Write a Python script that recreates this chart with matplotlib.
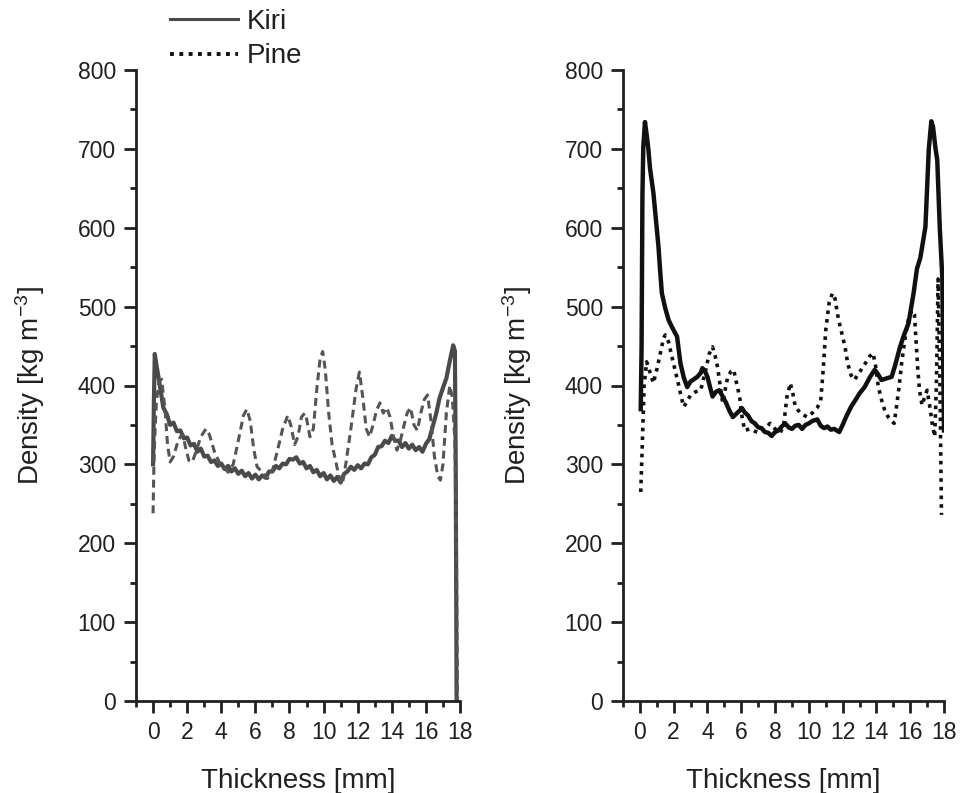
import matplotlib
matplotlib.use("Agg")
import matplotlib.pyplot as plt
from matplotlib.lines import Line2D
from matplotlib.ticker import MultipleLocator

plt.rcParams['font.family'] = ['Liberation Sans', 'DejaVu Sans']
plt.rcParams['mathtext.default'] = 'regular'

# --- left panel: Kiri (solid) ---
kiri_l_x = [0.0, 0.05, 0.1, 0.2, 0.4, 0.6, 0.8, 1.0, 1.2, 1.4, 1.6, 1.8, 2.0, 2.2, 2.4, 2.6, 2.8,
            3.0, 3.2, 3.4, 3.6, 3.8, 4.0, 4.2, 4.4, 4.6, 4.8, 5.0, 5.2, 5.4, 5.6, 5.8, 6.0, 6.2,
            6.4, 6.6, 6.8, 7.0, 7.2, 7.4, 7.6, 7.8, 8.0, 8.2, 8.4, 8.6, 8.8, 9.0, 9.2, 9.4, 9.6,
            9.8, 10.0, 10.2, 10.4, 10.6, 10.8, 11.0, 11.2, 11.4, 11.6, 11.8, 12.0, 12.2, 12.4,
            12.6, 12.8, 13.0, 13.2, 13.4, 13.6, 13.8, 14.0, 14.2, 14.4, 14.6, 14.8, 15.0, 15.2,
            15.4, 15.6, 15.8, 16.0, 16.2, 16.4, 16.6, 16.8, 17.0, 17.2, 17.4, 17.6, 17.7, 17.75,
            17.8]
kiri_l_y = [300, 380, 440, 426, 400, 372, 364, 350, 353, 342, 343, 333, 334, 324, 326, 316, 320,
            310, 311, 303, 305, 298, 301, 294, 298, 291, 295, 288, 292, 285, 289, 282, 287, 281,
            286, 283, 291, 291, 298, 295, 301, 300, 307, 306, 309, 301, 303, 295, 298, 290, 293,
            285, 289, 281, 286, 279, 284, 277, 288, 291, 297, 293, 299, 295, 301, 300, 309, 312,
            322, 323, 330, 327, 336, 330, 330, 322, 327, 320, 325, 318, 322, 316, 326, 332, 348,
            364, 384, 397, 409, 431, 451, 444, 300, 0]

# --- left panel: Pine (dashed) ---
pine_l_x = [0.0, 0.05, 0.1, 0.2, 0.35, 0.5, 0.7, 0.85, 1.0, 1.2, 1.4, 1.6, 1.75, 1.9, 2.1, 2.3,
            2.5, 2.8, 3.1, 3.3, 3.6, 3.9, 4.1, 4.4, 4.7, 5.0, 5.3, 5.5, 5.7, 5.9, 6.1, 6.4, 6.7,
            7.0, 7.3, 7.6, 7.9, 8.1, 8.3, 8.5, 8.7, 8.9, 9.0, 9.2, 9.4, 9.6, 9.8, 9.95, 10.1,
            10.3, 10.5, 10.7, 10.9, 11.1, 11.3, 11.6, 11.9, 12.1, 12.3, 12.5, 12.7, 12.9, 13.1,
            13.3, 13.5, 13.7, 13.9, 14.1, 14.3, 14.5, 14.7, 14.9, 15.1, 15.3, 15.5, 15.7, 15.9,
            16.1, 16.3, 16.5, 16.7, 16.85, 17.0, 17.2, 17.4, 17.55, 17.7, 17.8, 17.85]
pine_l_y = [238, 300, 335, 380, 405, 408, 370, 325, 303, 310, 325, 335, 338, 322, 305, 303,
            315, 335, 345, 338, 316, 302, 298, 290, 300, 330, 362, 370, 355, 320, 297, 290, 282,
            292, 318, 345, 362, 348, 325, 335, 360, 365, 358, 335, 345, 395, 435, 443, 420,
            365, 325, 305, 285, 275, 300, 345, 395, 417, 385, 345, 335, 350, 368, 378, 365,
            372, 360, 335, 318, 330, 348, 365, 372, 350, 343, 365, 382, 388, 355, 310, 285,
            280, 300, 365, 400, 385, 330, 180, 0]

# --- right panel: Kiri (solid) ---
kiri_r_x = [0.05, 0.1, 0.15, 0.2, 0.3, 0.4, 0.5, 0.6, 0.8, 0.95, 1.1, 1.2, 1.3, 1.5, 1.7, 1.9,
            2.1, 2.2, 2.3, 2.4, 2.6, 2.8, 3.0, 3.2, 3.4, 3.6, 3.7, 3.85, 4.0, 4.15, 4.3, 4.5, 4.7,
            4.9, 5.1, 5.3, 5.5, 5.7, 5.9, 6.05, 6.2, 6.4, 6.6, 6.8, 7.0, 7.2, 7.4, 7.6, 7.8,
            8.0, 8.2, 8.4, 8.6, 8.8, 9.0, 9.2, 9.4, 9.6, 9.8, 10.0, 10.2, 10.5, 10.7, 10.9, 11.1,
            11.3, 11.5, 11.8, 12.0, 12.2, 12.5, 12.8, 13.0, 13.3, 13.6, 13.9, 14.1, 14.3, 14.6,
            14.9, 15.1, 15.4, 15.6, 15.9, 16.05, 16.2, 16.4, 16.6, 16.8, 16.9, 17.0, 17.1, 17.25,
            17.35, 17.5, 17.6, 17.75, 17.9, 17.95, 18.0]
kiri_r_y = [370, 450, 640, 702, 734, 718, 700, 675, 644, 610, 576, 545, 517, 498, 483, 474,
            466, 462, 445, 428, 410, 398, 405, 408, 411, 416, 422, 418, 411, 398, 386, 392, 394,
            386, 378, 368, 360, 364, 368, 371, 366, 362, 355, 352, 347, 346, 341, 340, 336,
            341, 343, 348, 352, 347, 345, 349, 350, 345, 350, 352, 355, 357, 349, 346, 348,
            344, 345, 341, 350, 360, 373, 383, 390, 398, 410, 420, 414, 407, 409,
            411, 425, 449, 462, 479, 498, 517, 548, 562, 588, 601, 650, 700, 735,
            728, 700, 686, 600, 537, 440, 343]

# --- right panel: Pine (dotted) ---
pine_r_x = [0.05, 0.15, 0.25, 0.4, 0.55, 0.7, 0.8, 0.9, 1.0, 1.2, 1.4, 1.5, 1.7, 1.9, 2.1, 2.3,
            2.45, 2.6, 2.8, 3.0, 3.3, 3.6, 3.9, 4.1, 4.3, 4.45, 4.6, 4.75, 4.9, 5.05, 5.2, 5.4,
            5.55, 5.7, 5.9, 6.05, 6.2, 6.5, 6.8, 7.1, 7.4, 7.7, 8.0, 8.3, 8.5, 8.7, 8.9, 9.05,
            9.2, 9.5, 9.9, 10.2, 10.5, 10.7, 10.85, 11.0, 11.2, 11.4, 11.55, 11.7, 11.85, 12.0,
            12.15, 12.3, 12.5, 12.7, 12.9, 13.1, 13.4, 13.6, 13.8, 13.95, 14.1, 14.3, 14.5, 14.7,
            14.9, 15.05, 15.2, 15.35, 15.5, 15.7, 15.9, 16.1, 16.25, 16.35, 16.45, 16.55, 16.7,
            16.85, 17.0, 17.15, 17.3, 17.45, 17.55, 17.65, 17.75, 17.85]
pine_r_y = [265, 330, 400, 430, 420, 410, 403, 412, 420, 440, 460, 464, 455, 436, 418, 400,
            385, 373, 380, 388, 392, 394, 420, 440, 449, 438, 423, 400, 378, 395, 411, 418,
            420, 405, 386, 360, 343, 345, 342, 340, 345, 352, 345, 340, 348, 385, 403, 390,
            373, 365, 360, 365, 372, 380, 420, 470, 505, 517, 510, 490, 475, 462,
            448, 428, 413, 407, 414, 420, 430, 437, 441, 425, 400, 382, 368, 360,
            355, 352, 375, 400, 430, 460, 485, 495, 490, 455, 420, 394, 375,
            385, 394, 375, 352, 335, 400, 535, 420, 236]

ink = '#231f20'

fig = plt.figure(figsize=(9.61, 7.93), dpi=100)
ax1 = fig.add_axes([136 / 961, 1 - 701 / 793, 324 / 961, 631 / 793])
ax2 = fig.add_axes([623 / 961, 1 - 701 / 793, 321 / 961, 631 / 793])

ax1.plot(kiri_l_x, kiri_l_y, color='#4a4a4a', lw=3.0, solid_joinstyle='round')
ax1.plot(pine_l_x, pine_l_y, color='#555555', lw=2.2, dashes=(2.6, 1.6))

ax2.plot(kiri_r_x, kiri_r_y, color='#111111', lw=3.2, solid_joinstyle='round')
ax2.plot(pine_r_x, pine_r_y, color='#111111', lw=2.6, dashes=(1, 1.4), dash_capstyle='butt')

for ax in (ax1, ax2):
    ax.set_xlim(-1, 18)
    ax.set_ylim(0, 800)
    ax.spines['top'].set_visible(False)
    ax.spines['right'].set_visible(False)
    for s in ('left', 'bottom'):
        ax.spines[s].set_linewidth(2.0)
        ax.spines[s].set_color(ink)
    ax.set_xticks(range(0, 19, 2))
    ax.xaxis.set_minor_locator(MultipleLocator(1))
    ax.yaxis.set_major_locator(MultipleLocator(100))
    ax.yaxis.set_minor_locator(MultipleLocator(50))
    ax.tick_params(which='major', direction='out', length=8.5, width=2.0, color=ink,
                   labelsize=16.5, labelcolor=ink, pad=6)
    ax.tick_params(which='minor', direction='out', length=4.5, width=2.0, color=ink)
    ax.set_xlabel('Thickness [mm]', fontsize=20, color=ink, labelpad=17)
    ax.set_ylabel('Density [kg m$^{-3}$]', fontsize=20, color=ink, labelpad=22)

handles = [Line2D([], [], color='#4a4a4a', lw=2.2),
           Line2D([], [], color='#111111', lw=2.8, dashes=(1, 1.4), dash_capstyle='butt')]
fig.legend(handles, ['Kiri', 'Pine'], loc='upper left', bbox_to_anchor=(145 / 961, 1.02),
           frameon=False, fontsize=20, handlelength=2.45, handletextpad=0.3,
           labelspacing=0.3, labelcolor=ink)

fig.savefig('out.png', dpi=100)
